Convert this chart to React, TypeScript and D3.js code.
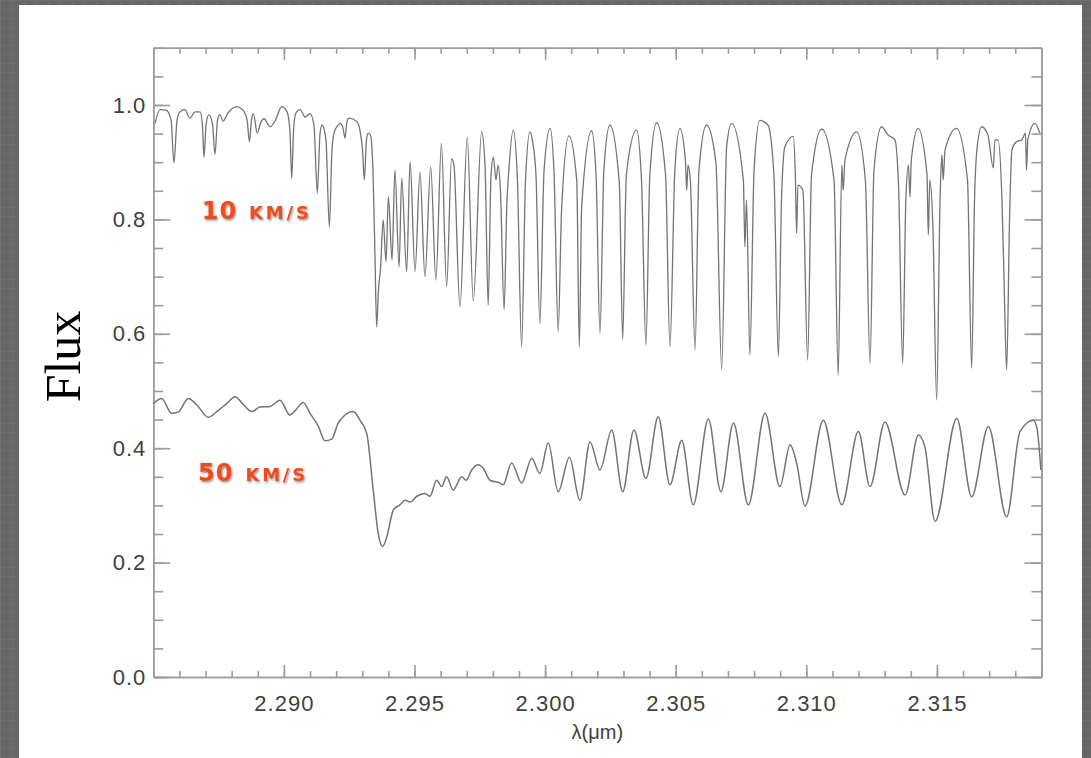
import React, { useEffect, useRef } from "react";
import * as d3 from "d3";

const W = 1091;
const H = 758;

// 10 km/s synthetic spectrum (wavelength in µm, normalised flux)
const lambda10 = [
  2.28507, 2.28526, 2.28549, 2.28568, 2.28579, 2.28591, 2.28602, 2.28621, 2.2864, 2.2866,
  2.28679, 2.28688, 2.28694, 2.28702, 2.28713, 2.28727, 2.28736, 2.28746, 2.28755, 2.28767,
  2.28786, 2.28819, 2.28843, 2.28859, 2.28868, 2.28876, 2.28883, 2.28898, 2.28912, 2.28924,
  2.28947, 2.28966, 2.28992, 2.29012, 2.29023, 2.2903, 2.29037, 2.29046, 2.29062, 2.29081,
  2.291, 2.29115, 2.29128, 2.29138, 2.29146, 2.29161, 2.29174, 2.29184, 2.29192, 2.29203,
  2.29215, 2.29226, 2.29234, 2.29241, 2.29249, 2.29279, 2.29291, 2.29301, 2.29308, 2.29316,
  2.29323, 2.29331, 2.29341, 2.29349, 2.29355, 2.29362, 2.2937, 2.2938, 2.29391, 2.294,
  2.29414, 2.29425, 2.29441, 2.29451, 2.2947, 2.29483, 2.29502, 2.29521, 2.2954, 2.29562,
  2.29582, 2.29603, 2.29623, 2.29642, 2.29651, 2.29674, 2.29702, 2.29725, 2.29757, 2.2977,
  2.29782, 2.29793, 2.29802, 2.29812, 2.2982, 2.29829, 2.29843, 2.29854, 2.29859, 2.29878,
  2.29894, 2.2991, 2.29925, 2.29942, 2.29952, 2.29965, 2.2998, 2.29996, 2.30019, 2.30034,
  2.3005, 2.30063, 2.30091, 2.30121, 2.30131, 2.3014, 2.30178, 2.30195, 2.3021, 2.30225,
  2.30248, 2.30284, 2.30297, 2.30311, 2.3035, 2.30369, 2.30386, 2.30401, 2.30427, 2.30461,
  2.30478, 2.30497, 2.30516, 2.30537, 2.30542, 2.30547, 2.30556, 2.30574, 2.30589, 2.30618,
  2.30654, 2.30676, 2.30695, 2.30714, 2.30759, 2.30765, 2.30771, 2.30784, 2.308, 2.30822,
  2.30853, 2.30876, 2.30893, 2.30905, 2.30918, 2.3095, 2.30958, 2.30963, 2.30968, 2.30987,
  2.31005, 2.3102, 2.31059, 2.31106, 2.31122, 2.31136, 2.31141, 2.31148, 2.31193, 2.31226,
  2.31244, 2.31259, 2.31288, 2.31312, 2.31339, 2.31353, 2.31369, 2.31381, 2.31391, 2.31397,
  2.31402, 2.31428, 2.31462, 2.31467, 2.31473, 2.31485, 2.31499, 2.31512, 2.31519, 2.31524,
  2.31531, 2.31575, 2.31617, 2.31633, 2.31644, 2.31653, 2.31671, 2.31695, 2.31716, 2.31722,
  2.31734, 2.31749, 2.31757, 2.31767, 2.31778, 2.31787, 2.31805, 2.31825, 2.31839, 2.31843,
  2.31848, 2.31875, 2.31894,
];
const flux10 = [
  0.968, 0.992, 0.991, 0.974, 0.899, 0.974, 0.988, 0.992, 0.977, 0.988,
  0.988, 0.965, 0.909, 0.965, 0.983, 0.965, 0.914, 0.974, 0.983, 0.972,
  0.986, 0.997, 0.991, 0.974, 0.936, 0.974, 0.985, 0.951, 0.97, 0.976,
  0.962, 0.972, 0.997, 0.988, 0.956, 0.872, 0.956, 0.986, 0.992, 0.979,
  0.985, 0.965, 0.846, 0.948, 0.965, 0.939, 0.787, 0.921, 0.951, 0.962,
  0.968, 0.96, 0.942, 0.97, 0.977, 0.971, 0.956, 0.921, 0.869, 0.939,
  0.951, 0.948, 0.886, 0.729, 0.612, 0.677, 0.715, 0.799, 0.726, 0.84,
  0.729, 0.886, 0.717, 0.872, 0.709, 0.901, 0.709, 0.883, 0.7, 0.892,
  0.694, 0.933, 0.682, 0.906, 0.895, 0.647, 0.944, 0.657, 0.953, 0.895,
  0.65, 0.878, 0.909, 0.869, 0.895, 0.851, 0.642, 0.834, 0.872, 0.956,
  0.869, 0.577, 0.869, 0.953, 0.936, 0.878, 0.618, 0.886, 0.959, 0.883,
  0.604, 0.816, 0.946, 0.869, 0.577, 0.822, 0.955, 0.878, 0.601, 0.886,
  0.965, 0.864, 0.59, 0.878, 0.956, 0.869, 0.58, 0.878, 0.969, 0.878,
  0.577, 0.889, 0.959, 0.904, 0.851, 0.895, 0.869, 0.572, 0.886, 0.965,
  0.899, 0.537, 0.927, 0.968, 0.869, 0.752, 0.834, 0.563, 0.886, 0.973,
  0.965, 0.878, 0.56, 0.834, 0.927, 0.945, 0.878, 0.776, 0.86, 0.851,
  0.554, 0.878, 0.958, 0.869, 0.528, 0.895, 0.851, 0.904, 0.953, 0.869,
  0.548, 0.886, 0.962, 0.948, 0.939, 0.86, 0.548, 0.834, 0.895, 0.839,
  0.904, 0.959, 0.878, 0.773, 0.869, 0.781, 0.484, 0.834, 0.913, 0.869,
  0.921, 0.959, 0.869, 0.54, 0.834, 0.921, 0.962, 0.948, 0.89, 0.939,
  0.939, 0.834, 0.694, 0.537, 0.799, 0.921, 0.936, 0.939, 0.951, 0.886,
  0.939, 0.968, 0.951,
];

// 50 km/s synthetic spectrum
const lambda50 = [
  2.285, 2.28532, 2.2857, 2.28595, 2.28634, 2.28666, 2.28711, 2.28743, 2.28781, 2.28813,
  2.28845, 2.28877, 2.28908, 2.28947, 2.28985, 2.29023, 2.29046, 2.29074, 2.291, 2.29132,
  2.29157, 2.29183, 2.29208, 2.29227, 2.29266, 2.29291, 2.29317, 2.29342, 2.29361, 2.29378,
  2.29394, 2.29419, 2.29444, 2.29464, 2.29483, 2.29509, 2.2954, 2.29559, 2.29585, 2.29604,
  2.29623, 2.29648, 2.29681, 2.29697, 2.29719, 2.29744, 2.29763, 2.29789, 2.29827, 2.29839,
  2.29872, 2.2991, 2.29949, 2.2998, 2.30012, 2.3005, 2.30093, 2.30133, 2.30172, 2.3021,
  2.30255, 2.30297, 2.3034, 2.30386, 2.30433, 2.30478, 2.30523, 2.30567, 2.30625, 2.30673,
  2.30721, 2.30778, 2.30842, 2.30899, 2.30938, 2.30963, 2.30995, 2.31065, 2.31136, 2.31199,
  2.31244, 2.31301, 2.31378, 2.31429, 2.31454, 2.31493, 2.31576, 2.31633, 2.31697, 2.31767,
  2.31818, 2.31869, 2.31883, 2.31898,
];
const flux50 = [
  0.478, 0.487, 0.461, 0.463, 0.487, 0.476, 0.454, 0.464, 0.478, 0.49,
  0.476, 0.464, 0.472, 0.473, 0.484, 0.458, 0.467, 0.48, 0.461, 0.438,
  0.413, 0.416, 0.444, 0.455, 0.464, 0.449, 0.426, 0.327, 0.251, 0.228,
  0.245, 0.292, 0.301, 0.309, 0.306, 0.316, 0.321, 0.316, 0.344, 0.333,
  0.35, 0.327, 0.35, 0.344, 0.362, 0.371, 0.365, 0.344, 0.339, 0.336,
  0.374, 0.339, 0.382, 0.356, 0.409, 0.324, 0.384, 0.309, 0.411, 0.362,
  0.432, 0.324, 0.432, 0.347, 0.455, 0.336, 0.414, 0.301, 0.451, 0.324,
  0.444, 0.301, 0.461, 0.333, 0.406, 0.374, 0.299, 0.449, 0.301, 0.429,
  0.333, 0.446, 0.318, 0.423, 0.402, 0.272, 0.452, 0.315, 0.438, 0.28,
  0.429, 0.449, 0.435, 0.362,
];

const xMajorTicks = [2.29, 2.295, 2.3, 2.305, 2.31, 2.315];
const yMajorTicks = [0, 0.2, 0.4, 0.6, 0.8, 1.0];
const xDomain = [2.285, 2.319];
const yDomain = [0, 1.1];
const xTitle = "λ(μm)";
const yTitle = "Flux";
const seriesLabels = ["10", "50"];

export default function App() {
  const ref = useRef<SVGSVGElement>(null);

  useEffect(() => {
    const svg = d3.select(ref.current);
    svg.selectAll("*").remove();

    const m = { l: 153.3, t: 47.8, r: 1041.4, b: 677 };
    const x = d3.scaleLinear().domain(xDomain).range([m.l, m.r]);
    const y = d3.scaleLinear().domain(yDomain).range([m.b, m.t]);

    const defs = svg.append("defs");
    const pat = defs
      .append("pattern")
      .attr("id", "bgtex")
      .attr("width", 12)
      .attr("height", 9)
      .attr("patternUnits", "userSpaceOnUse");
    pat.append("rect").attr("width", 12).attr("height", 9).attr("fill", "#676767");
    pat.append("rect").attr("x", 0).attr("width", 1).attr("height", 9).attr("fill", "#707070");
    pat.append("rect").attr("x", 6).attr("width", 1).attr("height", 9).attr("fill", "#616161");
    pat.append("rect").attr("y", 0).attr("width", 12).attr("height", 1).attr("fill", "#6e6e6e");

    const f = defs
      .append("filter")
      .attr("id", "shadow")
      .attr("x", "-10%")
      .attr("y", "-30%")
      .attr("width", "130%")
      .attr("height", "180%");
    f.append("feDropShadow")
      .attr("dx", 1)
      .attr("dy", 1.5)
      .attr("stdDeviation", 1)
      .attr("flood-color", "#000")
      .attr("flood-opacity", 0.45);

    svg.append("rect").attr("width", W).attr("height", H).attr("fill", "url(#bgtex)");
    svg.append("rect").attr("x", 19).attr("y", 5).attr("width", 1063).attr("height", H).attr("fill", "#ffffff");

    const axisColor = "#9c9c9c";
    const labelColor = "#404040";

    const styleAxis = (g: any, sw = 1.6) => {
      g.selectAll("path,line").attr("stroke", axisColor).attr("stroke-width", sw);
      g.selectAll("text")
        .attr("fill", labelColor)
        .attr("font-family", "'Liberation Sans', Arial, sans-serif")
        .attr("font-size", 22)
        .attr("letter-spacing", 1);
    };

    // minor ticks
    const xMinor = x.ticks(34);
    const yMinor = y.ticks(22);
    const blank = () => "";

    const gb = svg.append("g").attr("transform", `translate(0,${m.b})`);
    gb.call(d3.axisBottom(x).tickValues(xMinor).tickSize(-6).tickSizeOuter(0).tickFormat(blank as any));
    styleAxis(gb);
    const gbm = svg.append("g").attr("transform", `translate(0,${m.b})`);
    gbm.call(
      d3.axisBottom(x).tickValues(xMajorTicks).tickSize(-12).tickSizeOuter(0).tickPadding(18).tickFormat(d3.format(".3f") as any)
    );
    styleAxis(gbm);

    const gt = svg.append("g").attr("transform", `translate(0,${m.t})`);
    gt.call(d3.axisTop(x).tickValues(xMinor).tickSize(-6).tickSizeOuter(0).tickFormat(blank as any));
    styleAxis(gt);
    const gtm = svg.append("g").attr("transform", `translate(0,${m.t})`);
    gtm.call(d3.axisTop(x).tickValues(xMajorTicks).tickSize(-12).tickSizeOuter(0).tickFormat(blank as any));
    styleAxis(gtm);

    const gl = svg.append("g").attr("transform", `translate(${m.l},0)`);
    gl.call(d3.axisLeft(y).tickValues(yMinor).tickSize(-10).tickSizeOuter(0).tickFormat(blank as any));
    styleAxis(gl);
    const glm = svg.append("g").attr("transform", `translate(${m.l},0)`);
    glm.call(d3.axisLeft(y).tickValues(yMajorTicks).tickSize(-17).tickSizeOuter(0).tickPadding(7).tickFormat(d3.format(".1f") as any));
    styleAxis(glm);

    const gr = svg.append("g").attr("transform", `translate(${m.r},0)`);
    gr.call(d3.axisRight(y).tickValues(yMinor).tickSize(-10).tickSizeOuter(0).tickFormat(blank as any));
    styleAxis(gr);
    const grm = svg.append("g").attr("transform", `translate(${m.r},0)`);
    grm.call(d3.axisRight(y).tickValues(yMajorTicks).tickSize(-17).tickSizeOuter(0).tickFormat(blank as any));
    styleAxis(grm);

    // spectra
    const line10 = d3
      .line<number>()
      .x((_, i) => x(lambda10[i]))
      .y((d) => y(d))
      .curve(d3.curveMonotoneX);
    const line50 = d3
      .line<number>()
      .x((_, i) => x(lambda50[i]))
      .y((d) => y(d))
      .curve(d3.curveMonotoneX);

    svg
      .append("path")
      .attr("d", line10(flux10) as string)
      .attr("fill", "none")
      .attr("stroke", "#747474")
      .attr("stroke-width", 1.3)
      .attr("stroke-linejoin", "round");
    svg
      .append("path")
      .attr("d", line50(flux50) as string)
      .attr("fill", "none")
      .attr("stroke", "#747474")
      .attr("stroke-width", 1.5)
      .attr("stroke-linejoin", "round");

    // axis titles
    svg
      .append("text")
      .attr("x", (m.l + m.r) / 2)
      .attr("y", 739)
      .attr("text-anchor", "middle")
      .attr("fill", labelColor)
      .attr("font-family", "'Liberation Sans', Arial, sans-serif")
      .attr("font-size", 20)
      .text(xTitle);

    svg
      .append("text")
      .attr("transform", "translate(80,356.5) rotate(-90)")
      .attr("text-anchor", "middle")
      .attr("fill", "#000")
      .attr("font-family", "'Liberation Serif', 'Times New Roman', serif")
      .attr("font-size", 50)
      .text(yTitle);

    // series labels
    const labelPos = [
      { x: 201.7, y: 219 },
      { x: 198, y: 480.7 },
    ];
    seriesLabels.forEach((s, i) => {
      const t = svg
        .append("text")
        .attr("x", labelPos[i].x)
        .attr("y", labelPos[i].y)
        .attr("fill", "#ef4b1e")
        .attr("font-family", "'DejaVu Sans', sans-serif")
        .attr("font-weight", "bold")
        .attr("filter", "url(#shadow)");
      t.append("tspan").attr("font-size", 24).attr("letter-spacing", 1).text(s);
      t.append("tspan").attr("font-size", 18).attr("dx", 12).attr("letter-spacing", 2.8).text("KM/S");
    });
  }, []);

  return (
    <svg
      ref={ref}
      width={W}
      height={H}
      style={{ position: "absolute", left: 0, top: 0, display: "block" }}
    />
  );
}
